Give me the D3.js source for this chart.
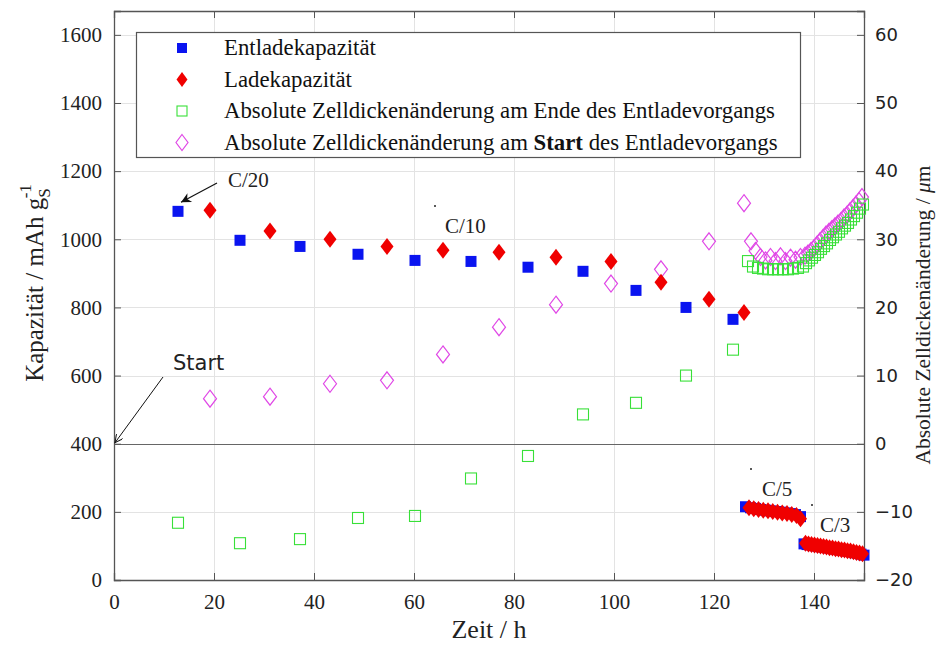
<!DOCTYPE html>
<html>
<head>
<meta charset="utf-8">
<script src="https://cdn.jsdelivr.net/npm/d3@7"></script>
<style>
  html, body { margin: 0; padding: 0; background: #fff; }
  svg { display: block; }
</style>
</head>
<body>
<div id="chart"></div>
<script>
// Zeit / h and capacity (mAh/g) for discharge (Entladen) and charge (Laden)
const entladeZeit = [12.8, 25.2, 37.2, 48.8, 60.2, 71.4, 82.8, 93.8, 104.4, 114.4, 123.8,
  126.3, 127.3, 128.3, 129.3, 130.3, 131.3, 132.3, 133.3, 134.3, 135.3, 136.3, 137.3,
  138.0, 138.6, 139.2, 139.8, 140.4, 141.0, 141.6, 142.2, 142.8, 143.4, 144.0, 144.6,
  145.2, 145.8, 146.4, 147.0, 147.6, 148.2, 148.8, 149.4, 150.0];
const entladeKap = [1082, 997, 979, 956, 938, 935, 918, 906, 850, 800, 765,
  215, 212, 210, 207, 205, 203, 201, 199, 197, 195, 192, 186,
  106, 104, 103, 101, 100, 98, 97, 96, 94, 93, 91, 90,
  88, 87, 85, 84, 82, 80, 78, 76, 73];

const ladeZeit = [19.2, 31.2, 43.2, 54.6, 65.8, 77.0, 88.4, 99.4, 109.4, 119.0, 126.0,
  127.0, 127.95, 128.9, 129.85, 130.8, 131.75, 132.7, 133.65, 134.6, 135.55, 136.5, 137.3,
  138.3, 138.9, 139.5, 140.1, 140.7, 141.3, 141.9, 142.5, 143.1, 143.7, 144.3, 144.9,
  145.5, 146.1, 146.7, 147.3, 147.9, 148.5, 149.1, 149.7];
const ladeKap = [1085, 1024, 1000, 979, 968, 962, 947, 935, 874, 824, 785,
  212, 209, 207, 205, 203, 201, 199, 197, 195, 192, 189, 180,
  108, 106, 104, 103, 101, 100, 98, 97, 95, 94, 92, 91,
  89, 88, 86, 85, 83, 81, 79, 77];

// Absolute cell thickness change (µm) at end / start of discharge
const endeZeit = [12.8, 25.2, 37.2, 48.8, 60.2, 71.4, 82.8, 93.8, 104.4, 114.4, 123.8,
  126.8, 127.8, 128.8, 129.8, 130.8, 131.8, 132.8, 133.8, 134.8, 135.8, 136.8, 137.8,
  138.4, 139.0, 139.6, 140.2, 140.8, 141.4, 142.0, 142.6, 143.2, 143.8, 144.4, 145.0,
  145.6, 146.2, 146.8, 147.4, 148.0, 148.6, 149.2, 149.8];
const endeDicke = [-11.6, -14.6, -14.0, -10.9, -10.6, -5.1, -1.8, 4.3, 6.0, 10.0, 13.8,
  26.8, 26.0, 25.8, 25.7, 25.6, 25.6, 25.6, 25.6, 25.6, 25.7, 25.8, 26.0,
  26.5, 26.9, 27.3, 27.7, 28.1, 28.6, 29.0, 29.4, 29.9, 30.3, 30.7, 31.1,
  31.6, 32.0, 32.4, 32.9, 33.4, 33.9, 34.5, 35.1];

const startZeit = [19.2, 31.2, 43.2, 54.6, 65.8, 77.0, 88.4, 99.4, 109.4, 119.0, 126.0,
  127.4, 128.3, 129.3, 130.3, 131.3, 132.3, 133.3, 134.3, 135.3, 136.3, 137.3,
  138.2, 138.8, 139.4, 140.0, 140.6, 141.2, 141.8, 142.4, 143.0, 143.6, 144.2, 144.8,
  145.4, 146.0, 146.6, 147.2, 147.8, 148.4, 149.0, 149.6];
const startDicke = [6.6, 6.9, 8.8, 9.3, 13.1, 17.1, 20.4, 23.5, 25.6, 29.7, 35.3,
  29.7, 28.3, 27.4, 26.9, 27.4, 26.8, 27.5, 26.8, 27.3, 27.0, 27.4,
  27.6, 27.9, 28.3, 28.7, 29.2, 29.7, 30.2, 30.7, 31.1, 31.5, 31.9, 32.3,
  32.7, 33.2, 33.6, 34.1, 34.6, 35.1, 35.6, 36.2];

const xTicks = [0, 20, 40, 60, 80, 100, 120, 140];
const yLeftTicks = [0, 200, 400, 600, 800, 1000, 1200, 1400, 1600];
const yRightTicks = [-20, -10, 0, 10, 20, 30, 40, 50, 60];

const legendLabels = [
  "Entladekapazität",
  "Ladekapazität",
  "Absolute Zelldickenänderung am Ende des Entladevorgangs",
  "Absolute Zelldickenänderung am Start des Entladevorgangs"
];

const W = 936, H = 646;
const plot = { left: 114, right: 864, top: 11, bottom: 580 };
const serif = "'Liberation Serif', 'Times New Roman', serif";
const sans = "'DejaVu Sans', sans-serif";

const svg = d3.select("#chart").append("svg")
  .attr("width", W).attr("height", H);

const x = d3.scaleLinear().domain([0, 150]).range([plot.left, plot.right]);
const yL = d3.scaleLinear().domain([0, 1670]).range([plot.bottom, plot.top]);
const yR = d3.scaleLinear().domain([-20, 63.5]).range([plot.bottom, plot.top]);

// grid
const grid = svg.append("g").attr("stroke", "#e3e3e3").attr("stroke-width", 1);
grid.selectAll("line.gx").data(xTicks.slice(1)).join("line")
  .attr("x1", d => Math.round(x(d)) + 0.5).attr("x2", d => Math.round(x(d)) + 0.5)
  .attr("y1", plot.top).attr("y2", plot.bottom);
grid.selectAll("line.gy").data(yLeftTicks.slice(1)).join("line")
  .attr("y1", d => Math.round(yL(d)) + 0.5).attr("y2", d => Math.round(yL(d)) + 0.5)
  .attr("x1", plot.left).attr("x2", plot.right);

// zero line of the thickness axis
svg.append("line")
  .attr("x1", plot.left).attr("x2", plot.right)
  .attr("y1", Math.round(yR(0)) + 0.5).attr("y2", Math.round(yR(0)) + 0.5)
  .attr("stroke", "#666").attr("stroke-width", 1.2);

// axes (MATLAB style, ticks pointing inward)
const axBottom = d3.axisBottom(x).tickValues(xTicks).tickSize(-7).tickPadding(14).tickFormat(d3.format("d"));
const axTop = d3.axisTop(x).tickValues(xTicks).tickSize(-7).tickFormat("");
const axLeft = d3.axisLeft(yL).tickValues(yLeftTicks).tickSize(-7).tickPadding(12).tickFormat(d3.format("d"));
const axRight = d3.axisRight(yR).tickValues(yRightTicks).tickSize(-7).tickPadding(11).tickFormat(d3.format("d"));

function styleAxis(g, font, size) {
  g.select(".domain").attr("stroke", "#555").attr("stroke-width", 1.3);
  g.selectAll(".tick line").attr("stroke", "#555").attr("stroke-width", 1);
  g.selectAll(".tick text").attr("fill", "#222").attr("font-family", font).attr("font-size", size);
}
svg.append("g").attr("transform", `translate(0,${plot.bottom})`).call(axBottom).call(g => styleAxis(g, serif, 21));
svg.append("g").attr("transform", `translate(0,${plot.top})`).call(axTop).call(g => styleAxis(g, serif, 21));
svg.append("g").attr("transform", `translate(${plot.left},0)`).call(axLeft).call(g => styleAxis(g, serif, 21));
svg.append("g").attr("transform", `translate(${plot.right},0)`).call(axRight).call(g => styleAxis(g, sans, 18));

// markers
function diamond(w, h) {
  return `M0,${-h / 2}L${w / 2},0L0,${h / 2}L${-w / 2},0Z`;
}
const marks = svg.append("g");

marks.selectAll("path.start").data(startZeit).join("path")
  .attr("d", diamond(13, 17))
  .attr("transform", (d, i) => `translate(${x(d)},${yR(startDicke[i])})`)
  .attr("fill", "none").attr("stroke", "#e048e6").attr("stroke-width", 1.2);

marks.selectAll("rect.ende").data(endeZeit).join("rect")
  .attr("x", d => x(d) - 5.5).attr("y", (d, i) => yR(endeDicke[i]) - 5.5)
  .attr("width", 11).attr("height", 11)
  .attr("fill", "none").attr("stroke", "#38e038").attr("stroke-width", 1.1);

marks.selectAll("rect.entlade").data(entladeZeit).join("rect")
  .attr("x", d => x(d) - 5.5).attr("y", (d, i) => yL(entladeKap[i]) - 5.5)
  .attr("width", 11).attr("height", 11)
  .attr("fill", "#0a14f0");

marks.selectAll("path.lade").data(ladeZeit).join("path")
  .attr("d", diamond(13, 17))
  .attr("transform", (d, i) => `translate(${x(d)},${yL(ladeKap[i])})`)
  .attr("fill", "#f00000");

// annotations
const ann = svg.append("g");
svg.append("defs").append("marker")
  .attr("id", "headFilled").attr("viewBox", "0 0 10 10").attr("refX", 10).attr("refY", 5)
  .attr("markerWidth", 14).attr("markerHeight", 10).attr("markerUnits", "userSpaceOnUse")
  .attr("orient", "auto")
  .append("path").attr("d", "M0,0L10,5L0,10L3,5Z").attr("fill", "#111");
svg.select("defs").append("marker")
  .attr("id", "headOpen").attr("viewBox", "0 0 10 10").attr("refX", 10).attr("refY", 5)
  .attr("markerWidth", 10).attr("markerHeight", 8).attr("markerUnits", "userSpaceOnUse")
  .attr("orient", "auto")
  .append("path").attr("d", "M0,0L10,5L0,10").attr("fill", "none").attr("stroke", "#111").attr("stroke-width", 1.2);

ann.append("line").attr("x1", 217).attr("y1", 183).attr("x2", x(12.8) + 3).attr("y2", yL(1082) - 9)
  .attr("stroke", "#111").attr("stroke-width", 1.2).attr("marker-end", "url(#headFilled)");
ann.append("text").attr("x", 228).attr("y", 187).text("C/20")
  .attr("font-family", serif).attr("font-size", 21).attr("fill", "#222");

ann.append("text").attr("x", 445).attr("y", 233).text("C/10")
  .attr("font-family", serif).attr("font-size", 21).attr("fill", "#222");

ann.append("line").attr("x1", 163).attr("y1", 377).attr("x2", x(0) + 1).attr("y2", yL(400) - 1)
  .attr("stroke", "#111").attr("stroke-width", 1).attr("marker-end", "url(#headOpen)");
ann.append("text").attr("x", 173).attr("y", 370).text("Start")
  .attr("font-family", sans).attr("font-size", 21).attr("fill", "#222");

ann.append("text").attr("x", 762).attr("y", 496).text("C/5")
  .attr("font-family", serif).attr("font-size", 21).attr("fill", "#222");
ann.append("text").attr("x", 820).attr("y", 532).text("C/3")
  .attr("font-family", serif).attr("font-size", 21).attr("fill", "#222");

// small stray dots
[[435, 206], [751, 469], [812, 505]].forEach(p =>
  ann.append("circle").attr("cx", p[0]).attr("cy", p[1]).attr("r", 1).attr("fill", "#222"));

// legend
const lg = svg.append("g");
lg.append("rect").attr("x", 136.5).attr("y", 32.5).attr("width", 664).attr("height", 125)
  .attr("fill", "#fff").attr("stroke", "#555").attr("stroke-width", 1.2);
const rowY = i => 48 + i * 31.5;
const mx = 182;
lg.append("rect").attr("x", mx - 5).attr("y", rowY(0) - 5).attr("width", 10).attr("height", 10).attr("fill", "#0a14f0");
lg.append("path").attr("d", diamond(11, 15)).attr("transform", `translate(${mx},${rowY(1)})`).attr("fill", "#f00000");
lg.append("rect").attr("x", mx - 5).attr("y", rowY(2) - 5).attr("width", 10).attr("height", 10)
  .attr("fill", "none").attr("stroke", "#38e038").attr("stroke-width", 1.1);
lg.append("path").attr("d", diamond(12, 16)).attr("transform", `translate(${mx},${rowY(3)})`)
  .attr("fill", "none").attr("stroke", "#e048e6").attr("stroke-width", 1.2);

legendLabels.forEach((t, i) => {
  const tx = lg.append("text").attr("x", 224).attr("y", rowY(i) + 7)
    .attr("font-family", serif).attr("font-size", 22.8).attr("fill", "#111");
  if (t.includes(" Start ")) {
    const parts = t.split(" Start ");
    tx.append("tspan").text(parts[0] + " ");
    tx.append("tspan").attr("font-weight", "bold").text("Start");
    tx.append("tspan").text(" " + parts[1]);
  } else {
    tx.text(t);
  }
});

// axis titles
svg.append("text").attr("x", x(75)).attr("y", 638).attr("text-anchor", "middle")
  .attr("font-family", serif).attr("font-size", 26).attr("fill", "#222").text("Zeit / h");

const yt = svg.append("text").attr("transform", "translate(43,283) rotate(-90)")
  .attr("text-anchor", "middle").attr("font-family", serif).attr("font-size", 25).attr("fill", "#222");
yt.append("tspan").text("Kapazität / mAh g");
yt.append("tspan").attr("font-size", 17).attr("dy", 7).text("S");
yt.append("tspan").attr("font-size", 17).attr("dx", -10).attr("dy", -19).text("-1");

const rt = svg.append("text").attr("transform", "translate(930,315) rotate(-90)")
  .attr("text-anchor", "middle").attr("font-family", serif).attr("font-size", 21.5).attr("fill", "#222");
rt.append("tspan").text("Absolute Zelldickenänderung / ");
rt.append("tspan").attr("font-style", "italic").text("μ");
rt.append("tspan").text("m");
</script>
</body>
</html>
